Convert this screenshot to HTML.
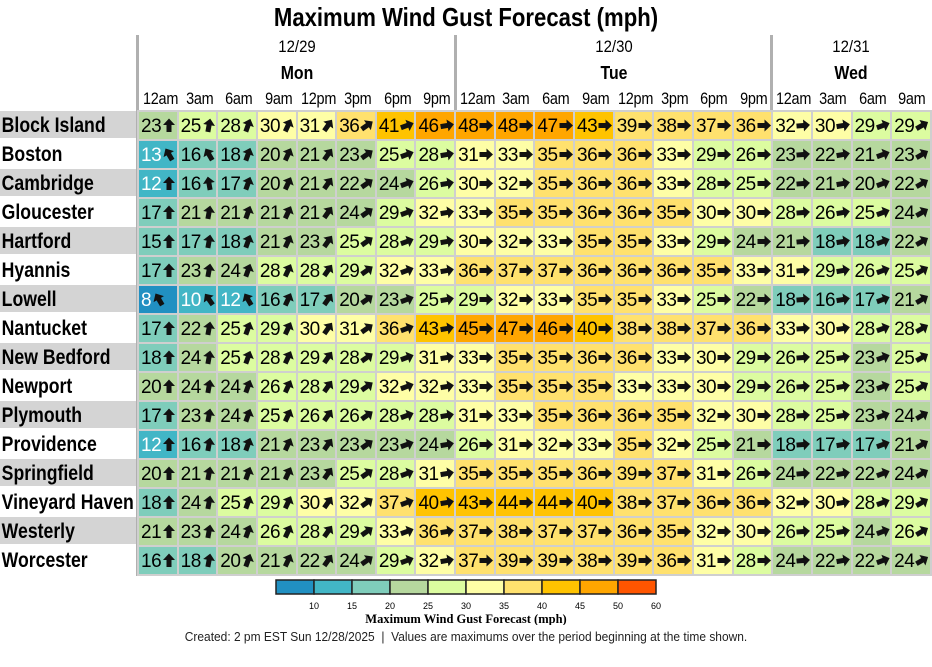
<!DOCTYPE html>
<html><head><meta charset="utf-8">
<style>
body{margin:0;width:932px;height:667px;background:#fff;position:relative;overflow:hidden;font-family:"Liberation Sans",sans-serif;}
.t{position:absolute;white-space:nowrap;}
#title{left:0;width:932px;top:2px;text-align:center;font-weight:bold;font-size:26px;transform:scaleX(0.85);}
.vl{position:absolute;top:35px;height:541px;width:3px;background:#b0b0b0;}
.hd{position:absolute;text-align:center;font-size:17px;transform:scaleX(0.88);}
.hb{font-weight:bold;font-size:18px;}
#names{position:absolute;left:0;top:111px;width:136px;}
#names div{height:27px;margin-bottom:2px;background:#fff;overflow:visible;}
#names div.g{background:#d4d4d4;}
#names span{display:inline-block;font-weight:bold;font-size:21px;line-height:29px;padding-left:2px;white-space:nowrap;transform:scaleX(0.84);transform-origin:left;}
table{position:absolute;left:137px;top:110px;width:795px;border-collapse:separate;border-spacing:2px;background:#cfcfcf;table-layout:fixed;}
td{height:27px;padding:0;overflow:hidden;}
td div{height:27px;overflow:hidden;padding-left:2px;font-size:19px;line-height:29px;white-space:nowrap;letter-spacing:-0.5px;}
td svg{vertical-align:-1px;margin-left:1px;}
.times span{position:absolute;top:89px;width:39.6px;text-align:center;font-size:17px;transform:scaleX(0.85);letter-spacing:-0.3px;}
</style></head><body>
<div id="title" class="t">Maximum Wind Gust Forecast (mph)</div>
<div class="vl" style="left:136px"></div>
<div class="vl" style="left:454px"></div>
<div class="vl" style="left:770px"></div>
<div class="hd" style="left:237px;width:120px;top:37px">12/29</div>
<div class="hd hb" style="left:237px;width:120px;top:63px">Mon</div>
<div class="hd" style="left:554px;width:120px;top:37px">12/30</div>
<div class="hd hb" style="left:554px;width:120px;top:63px">Tue</div>
<div class="hd" style="left:791px;width:120px;top:37px">12/31</div>
<div class="hd hb" style="left:791px;width:120px;top:63px">Wed</div>
<div class="times" id="times"><span style="left:140px">12am</span><span style="left:180px">3am</span><span style="left:219px">6am</span><span style="left:259px">9am</span><span style="left:298px">12pm</span><span style="left:338px">3pm</span><span style="left:378px">6pm</span><span style="left:417px">9pm</span><span style="left:457px">12am</span><span style="left:496px">3am</span><span style="left:536px">6am</span><span style="left:576px">9am</span><span style="left:615px">12pm</span><span style="left:655px">3pm</span><span style="left:694px">6pm</span><span style="left:734px">9pm</span><span style="left:773px">12am</span><span style="left:813px">3am</span><span style="left:853px">6am</span><span style="left:892px">9am</span></div>
<div id="names">
<div class="g"><span>Block Island</span></div><div><span>Boston</span></div><div class="g"><span>Cambridge</span></div><div><span>Gloucester</span></div><div class="g"><span>Hartford</span></div><div><span>Hyannis</span></div><div class="g"><span>Lowell</span></div><div><span>Nantucket</span></div><div class="g"><span>New Bedford</span></div><div><span>Newport</span></div><div class="g"><span>Plymouth</span></div><div><span>Providence</span></div><div class="g"><span>Springfield</span></div><div><span>Vineyard Haven</span></div><div class="g"><span>Westerly</span></div><div><span>Worcester</span></div>
</div>
<table id="tb">
<tr><td>23</td><td>25</td><td>28</td><td>30</td><td>31</td><td>36</td><td>41</td><td>46</td><td>48</td><td>48</td><td>47</td><td>43</td><td>39</td><td>38</td><td>37</td><td>36</td><td>32</td><td>30</td><td>29</td><td>29</td></tr>
<tr><td>13</td><td>16</td><td>18</td><td>20</td><td>21</td><td>23</td><td>25</td><td>28</td><td>31</td><td>33</td><td>35</td><td>36</td><td>36</td><td>33</td><td>29</td><td>26</td><td>23</td><td>22</td><td>21</td><td>23</td></tr>
<tr><td>12</td><td>16</td><td>17</td><td>20</td><td>21</td><td>22</td><td>24</td><td>26</td><td>30</td><td>32</td><td>35</td><td>36</td><td>36</td><td>33</td><td>28</td><td>25</td><td>22</td><td>21</td><td>20</td><td>22</td></tr>
<tr><td>17</td><td>21</td><td>21</td><td>21</td><td>21</td><td>24</td><td>29</td><td>32</td><td>33</td><td>35</td><td>35</td><td>36</td><td>36</td><td>35</td><td>30</td><td>30</td><td>28</td><td>26</td><td>25</td><td>24</td></tr>
<tr><td>15</td><td>17</td><td>18</td><td>21</td><td>23</td><td>25</td><td>28</td><td>29</td><td>30</td><td>32</td><td>33</td><td>35</td><td>35</td><td>33</td><td>29</td><td>24</td><td>21</td><td>18</td><td>18</td><td>22</td></tr>
<tr><td>17</td><td>23</td><td>24</td><td>28</td><td>28</td><td>29</td><td>32</td><td>33</td><td>36</td><td>37</td><td>37</td><td>36</td><td>36</td><td>36</td><td>35</td><td>33</td><td>31</td><td>29</td><td>26</td><td>25</td></tr>
<tr><td>8</td><td>10</td><td>12</td><td>16</td><td>17</td><td>20</td><td>23</td><td>25</td><td>29</td><td>32</td><td>33</td><td>35</td><td>35</td><td>33</td><td>25</td><td>22</td><td>18</td><td>16</td><td>17</td><td>21</td></tr>
<tr><td>17</td><td>22</td><td>25</td><td>29</td><td>30</td><td>31</td><td>36</td><td>43</td><td>45</td><td>47</td><td>46</td><td>40</td><td>38</td><td>38</td><td>37</td><td>36</td><td>33</td><td>30</td><td>28</td><td>28</td></tr>
<tr><td>18</td><td>24</td><td>25</td><td>28</td><td>29</td><td>28</td><td>29</td><td>31</td><td>33</td><td>35</td><td>35</td><td>36</td><td>36</td><td>33</td><td>30</td><td>29</td><td>26</td><td>25</td><td>23</td><td>25</td></tr>
<tr><td>20</td><td>24</td><td>24</td><td>26</td><td>28</td><td>29</td><td>32</td><td>32</td><td>33</td><td>35</td><td>35</td><td>35</td><td>33</td><td>33</td><td>30</td><td>29</td><td>26</td><td>25</td><td>23</td><td>25</td></tr>
<tr><td>17</td><td>23</td><td>24</td><td>25</td><td>26</td><td>26</td><td>28</td><td>28</td><td>31</td><td>33</td><td>35</td><td>36</td><td>36</td><td>35</td><td>32</td><td>30</td><td>28</td><td>25</td><td>23</td><td>24</td></tr>
<tr><td>12</td><td>16</td><td>18</td><td>21</td><td>23</td><td>23</td><td>23</td><td>24</td><td>26</td><td>31</td><td>32</td><td>33</td><td>35</td><td>32</td><td>25</td><td>21</td><td>18</td><td>17</td><td>17</td><td>21</td></tr>
<tr><td>20</td><td>21</td><td>21</td><td>21</td><td>23</td><td>25</td><td>28</td><td>31</td><td>35</td><td>35</td><td>35</td><td>36</td><td>39</td><td>37</td><td>31</td><td>26</td><td>24</td><td>22</td><td>22</td><td>24</td></tr>
<tr><td>18</td><td>24</td><td>25</td><td>29</td><td>30</td><td>32</td><td>37</td><td>40</td><td>43</td><td>44</td><td>44</td><td>40</td><td>38</td><td>37</td><td>36</td><td>36</td><td>32</td><td>30</td><td>28</td><td>29</td></tr>
<tr><td>21</td><td>23</td><td>24</td><td>26</td><td>28</td><td>29</td><td>33</td><td>36</td><td>37</td><td>38</td><td>37</td><td>37</td><td>36</td><td>35</td><td>32</td><td>30</td><td>26</td><td>25</td><td>24</td><td>26</td></tr>
<tr><td>16</td><td>18</td><td>20</td><td>21</td><td>22</td><td>24</td><td>29</td><td>32</td><td>37</td><td>39</td><td>39</td><td>38</td><td>39</td><td>36</td><td>31</td><td>28</td><td>24</td><td>22</td><td>22</td><td>24</td></tr>
</table>
<svg style="position:absolute;left:0;top:575px" width="932" height="50">
<g stroke="#222" stroke-width="1.5">
<rect x="276" y="5" width="38" height="14" fill="#2190c2"/>
<rect x="314" y="5" width="38" height="14" fill="#42b6c6"/>
<rect x="352" y="5" width="38" height="14" fill="#7fcdbb"/>
<rect x="390" y="5" width="38" height="14" fill="#b6d89e"/>
<rect x="428" y="5" width="38" height="14" fill="#dcfca0"/>
<rect x="466" y="5" width="38" height="14" fill="#fefea6"/>
<rect x="504" y="5" width="38" height="14" fill="#ffe16e"/>
<rect x="542" y="5" width="38" height="14" fill="#ffc300"/>
<rect x="580" y="5" width="38" height="14" fill="#ffa600"/>
<rect x="618" y="5" width="38" height="14" fill="#ff5500"/>
</g>
<g font-size="9" text-anchor="middle" font-family="Liberation Sans">
<text x="314" y="34">10</text><text x="352" y="34">15</text><text x="390" y="34">20</text><text x="428" y="34">25</text><text x="466" y="34">30</text><text x="504" y="34">35</text><text x="542" y="34">40</text><text x="580" y="34">45</text><text x="618" y="34">50</text><text x="656" y="34">60</text>
</g>
<text x="466" y="48" font-size="12.5" font-weight="bold" text-anchor="middle" font-family="Liberation Serif">Maximum Wind Gust Forecast (mph)</text>
</svg>
<div class="t" style="left:0;width:932px;text-align:center;top:629px;font-size:13px;color:#222;transform:scaleX(0.92)">Created: 2 pm EST Sun 12/28/2025 &nbsp;|&nbsp; Values are maximums over the period beginning at the time shown.</div>
<script>
var ang=[0,10,20,25,35,55,70,80,90,90,90,90,90,90,90,90,85,80,70,60];
var ex={"1,0":-30,"1,1":-30,"2,1":-10,"6,0":-30,"6,1":-35,"6,2":-30};
function col(v){if(v<10)return"#2190c2";if(v<15)return"#42b6c6";if(v<20)return"#7fcdbb";if(v<25)return"#b6d89e";if(v<30)return"#dcfca0";if(v<35)return"#fefea6";if(v<40)return"#ffe16e";if(v<45)return"#ffc300";if(v<50)return"#ffa600";return"#ff5500";}
var rows=document.querySelectorAll("#tb tr");
rows.forEach(function(r,i){r.querySelectorAll("td").forEach(function(c,j){var v=+c.textContent;c.style.background=col(v);if(v<15)c.style.color="#fff";var a=ex[i+","+j];if(a===undefined)a=ang[j];
c.innerHTML='<div>'+c.textContent+'<svg width="14" height="15" viewBox="-7 -7.5 14 15"><g transform="rotate('+a+')"><path d="M0,-7 L6,-0.5 L2.5,-0.5 L2.5,6.5 L-2.5,6.5 L-2.5,-0.5 L-6,-0.5 Z" fill="#111"/></g></svg></div>';});});
</script>
</body></html>
